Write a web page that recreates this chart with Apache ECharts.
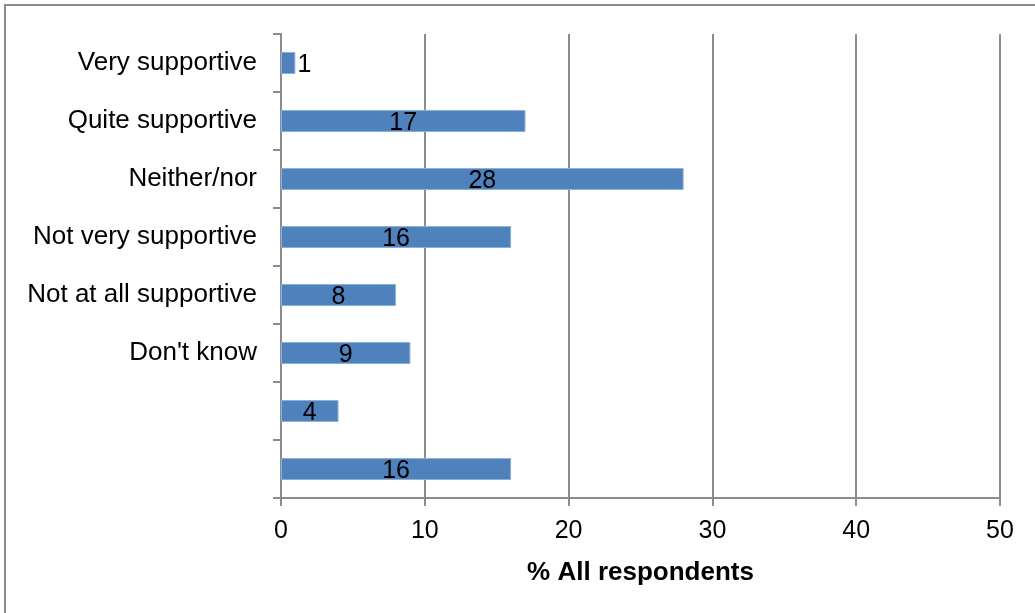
<!DOCTYPE html>
<html>
<head>
<meta charset="utf-8">
<style>
  html, body { margin: 0; padding: 0; background: #fff; }
  #chart { width: 1035px; height: 613px; }
</style>
<script src="https://cdn.jsdelivr.net/npm/echarts@6/dist/echarts.min.js"></script>
</head>
<body>
<div id="chart"></div>
<script>
// Support levels, top to bottom; the last two rows carry no label
const categories = ['Very supportive', 'Quite supportive', 'Neither/nor', 'Not very supportive',
                    'Not at all supportive', "Don't know", ' ', '  '];
const values = [1, 17, 28, 16, 8, 9, 4, 16];
const axisTitle = '% All respondents';

const chart = echarts.init(document.getElementById('chart'), null, { renderer: 'canvas' });
const grey = '#8c8c8c';
const font = 'Arial, "Liberation Sans", sans-serif';

chart.setOption({
  animation: false,
  textStyle: { fontFamily: font },
  graphic: [{
    type: 'rect',
    shape: { x: 5, y: 5, width: 1100, height: 700 },
    style: { fill: 'none', stroke: grey, lineWidth: 2 },
    silent: true
  }],
  grid: { left: 281, right: 35, top: 34, bottom: 115, containLabel: false },
  xAxis: {
    type: 'value',
    min: 0, max: 50, interval: 10,
    name: axisTitle,
    nameLocation: 'middle',
    nameGap: 62,
    nameTextStyle: { fontSize: 26, fontWeight: 'bold', color: '#000', fontFamily: font },
    axisLine: { show: true, lineStyle: { color: grey, width: 2 } },
    axisTick: { show: true, length: 8, lineStyle: { color: grey, width: 2 } },
    axisLabel: { fontSize: 25, color: '#000', margin: 21, fontFamily: font },
    splitLine: { show: true, lineStyle: { color: grey, width: 2 } }
  },
  yAxis: {
    type: 'category',
    data: categories,
    inverse: true,
    axisLine: { show: true, lineStyle: { color: grey, width: 2 } },
    axisTick: { show: true, length: 8, alignWithLabel: false, lineStyle: { color: grey, width: 2 } },
    axisLabel: { fontSize: 26, color: '#000', margin: 24, fontFamily: font, padding: [4, 0, 0, 0] },
    splitLine: { show: false }
  },
  series: [{
    type: 'bar',
    data: values.map(v => v <= 2
      ? { value: v, label: { position: 'right', distance: 2 } }
      : v),
    barWidth: '38%',
    itemStyle: { color: '#4f81bd', borderColor: '#8eb0dc', borderWidth: 1 },
    label: {
      show: true,
      position: 'inside',
      color: '#000',
      fontSize: 25,
      fontFamily: font,
      offset: [0, 2]
    }
  }]
});
</script>
</body>
</html>
